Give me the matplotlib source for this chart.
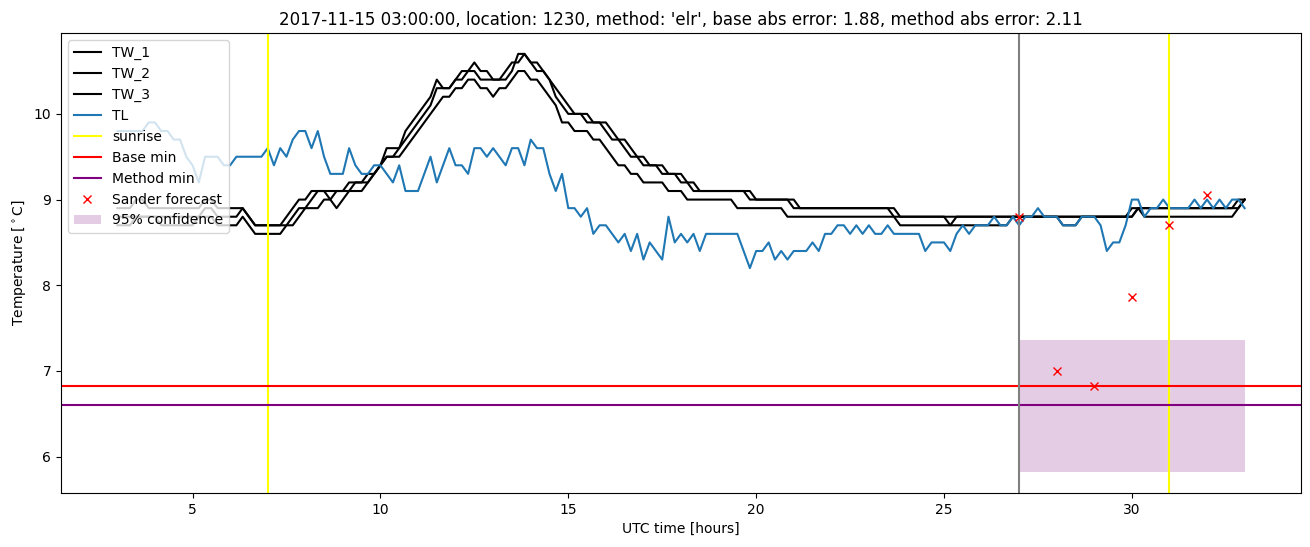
import numpy as np
import matplotlib
matplotlib.use("Agg")
import matplotlib.pyplot as plt

# 10-minute samples from 03:00 (day before) to 09:00, in hours
hours = 3 + np.arange(181) / 6

tw_1 = [8.9, 8.9, 8.9, 9.0, 9.0, 8.9,
        8.9, 8.9, 8.9, 8.9, 8.9, 8.9,
        8.9, 8.9, 9.0, 9.0, 8.9, 8.9,
        8.9, 8.9, 8.9, 8.8, 8.7, 8.7,
        8.7, 8.7, 8.7, 8.8, 8.9, 9.0,
        9.0, 9.1, 9.1, 9.1, 9.1, 9.1,
        9.1, 9.2, 9.2, 9.2, 9.3, 9.3,
        9.4, 9.6, 9.6, 9.6, 9.8, 9.9,
        10.0, 10.1, 10.2, 10.4, 10.3, 10.3,
        10.4, 10.5, 10.5, 10.6, 10.5, 10.5,
        10.4, 10.4, 10.5, 10.6, 10.6, 10.7,
        10.6, 10.6, 10.5, 10.4, 10.2, 10.1,
        10.0, 10.0, 10.0, 9.9, 9.9, 9.9,
        9.8, 9.7, 9.7, 9.6, 9.5, 9.5,
        9.4, 9.4, 9.4, 9.3, 9.3, 9.3,
        9.2, 9.2, 9.1, 9.1, 9.1, 9.1,
        9.1, 9.1, 9.1, 9.1, 9.1, 9.0,
        9.0, 9.0, 9.0, 9.0, 9.0, 9.0,
        8.9, 8.9, 8.9, 8.9, 8.9, 8.9,
        8.9, 8.9, 8.9, 8.9, 8.9, 8.9,
        8.9, 8.9, 8.9, 8.9, 8.8, 8.8,
        8.8, 8.8, 8.8, 8.8, 8.8, 8.8,
        8.8, 8.7, 8.8, 8.8, 8.8, 8.8,
        8.8, 8.8, 8.8, 8.8, 8.8, 8.8,
        8.8, 8.8, 8.8, 8.8, 8.8, 8.8,
        8.8, 8.8, 8.8, 8.8, 8.8, 8.8,
        8.8, 8.8, 8.8, 8.8, 8.8, 8.8,
        8.9, 8.9, 8.9, 8.9, 8.9, 8.9,
        8.9, 8.9, 8.9, 8.9, 8.9, 8.9,
        8.9, 8.9, 8.9, 8.9, 8.9, 9.0,
        9.0]

tw_2 = [8.8, 8.8, 8.8, 8.8, 8.8, 8.8,
        8.8, 8.8, 8.8, 8.8, 8.8, 8.8,
        8.8, 8.8, 8.9, 8.9, 8.8, 8.8,
        8.8, 8.8, 8.9, 8.8, 8.7, 8.7,
        8.7, 8.7, 8.7, 8.7, 8.8, 8.9,
        8.9, 9.0, 9.1, 9.1, 9.0, 9.1,
        9.1, 9.1, 9.2, 9.2, 9.2, 9.3,
        9.4, 9.5, 9.5, 9.6, 9.7, 9.8,
        9.9, 10.0, 10.1, 10.3, 10.3, 10.3,
        10.4, 10.4, 10.5, 10.5, 10.4, 10.4,
        10.4, 10.4, 10.4, 10.5, 10.7, 10.7,
        10.6, 10.5, 10.5, 10.4, 10.3, 10.2,
        10.1, 10.0, 10.0, 10.0, 9.9, 9.9,
        9.9, 9.8, 9.7, 9.7, 9.6, 9.5,
        9.5, 9.4, 9.4, 9.4, 9.3, 9.3,
        9.3, 9.2, 9.2, 9.1, 9.1, 9.1,
        9.1, 9.1, 9.1, 9.1, 9.1, 9.1,
        9.0, 9.0, 9.0, 9.0, 9.0, 9.0,
        9.0, 8.9, 8.9, 8.9, 8.9, 8.9,
        8.9, 8.9, 8.9, 8.9, 8.9, 8.9,
        8.9, 8.9, 8.9, 8.9, 8.9, 8.8,
        8.8, 8.8, 8.8, 8.8, 8.8, 8.8,
        8.8, 8.8, 8.8, 8.8, 8.8, 8.8,
        8.8, 8.8, 8.8, 8.8, 8.8, 8.8,
        8.8, 8.8, 8.8, 8.8, 8.8, 8.8,
        8.8, 8.7, 8.7, 8.7, 8.8, 8.8,
        8.8, 8.8, 8.8, 8.8, 8.8, 8.8,
        8.8, 8.9, 8.9, 8.9, 8.9, 8.9,
        8.9, 8.9, 8.9, 8.9, 8.9, 8.9,
        8.9, 8.9, 8.9, 8.9, 8.9, 8.9,
        9.0]

tw_3 = [8.7, 8.7, 8.7, 8.8, 8.8, 8.8,
        8.8, 8.7, 8.7, 8.7, 8.7, 8.7,
        8.7, 8.8, 8.8, 8.8, 8.7, 8.7,
        8.7, 8.7, 8.8, 8.7, 8.6, 8.6,
        8.6, 8.6, 8.6, 8.7, 8.7, 8.8,
        8.9, 8.9, 8.9, 9.0, 9.0, 8.9,
        9.0, 9.1, 9.1, 9.1, 9.2, 9.3,
        9.4, 9.5, 9.5, 9.5, 9.6, 9.7,
        9.8, 9.9, 10.0, 10.1, 10.2, 10.2,
        10.3, 10.3, 10.4, 10.4, 10.3, 10.3,
        10.2, 10.3, 10.3, 10.4, 10.5, 10.5,
        10.4, 10.4, 10.3, 10.2, 10.1, 9.9,
        9.9, 9.8, 9.8, 9.8, 9.7, 9.7,
        9.6, 9.5, 9.4, 9.4, 9.3, 9.3,
        9.2, 9.2, 9.2, 9.2, 9.1, 9.1,
        9.1, 9.0, 9.0, 9.0, 9.0, 9.0,
        9.0, 9.0, 9.0, 8.9, 8.9, 8.9,
        8.9, 8.9, 8.9, 8.9, 8.9, 8.8,
        8.8, 8.8, 8.8, 8.8, 8.8, 8.8,
        8.8, 8.8, 8.8, 8.8, 8.8, 8.8,
        8.8, 8.8, 8.8, 8.8, 8.8, 8.7,
        8.7, 8.7, 8.7, 8.7, 8.7, 8.7,
        8.7, 8.7, 8.7, 8.7, 8.7, 8.7,
        8.7, 8.7, 8.7, 8.7, 8.7, 8.8,
        8.8, 8.8, 8.8, 8.8, 8.8, 8.8,
        8.8, 8.8, 8.8, 8.8, 8.8, 8.8,
        8.8, 8.8, 8.8, 8.8, 8.8, 8.8,
        8.8, 8.9, 8.8, 8.8, 8.8, 8.8,
        8.8, 8.8, 8.8, 8.8, 8.8, 8.8,
        8.8, 8.8, 8.8, 8.8, 8.8, 8.9,
        9.0]

tl = [9.8, 9.8, 9.8, 9.8, 9.8, 9.9,
      9.9, 9.8, 9.8, 9.7, 9.7, 9.5,
      9.4, 9.2, 9.5, 9.5, 9.5, 9.4,
      9.4, 9.5, 9.5, 9.5, 9.5, 9.5,
      9.6, 9.4, 9.6, 9.5, 9.7, 9.8,
      9.8, 9.6, 9.8, 9.5, 9.3, 9.3,
      9.3, 9.6, 9.4, 9.3, 9.3, 9.4,
      9.4, 9.3, 9.2, 9.4, 9.1, 9.1,
      9.1, 9.3, 9.5, 9.2, 9.4, 9.6,
      9.4, 9.4, 9.3, 9.6, 9.6, 9.5,
      9.6, 9.5, 9.4, 9.6, 9.6, 9.4,
      9.7, 9.6, 9.6, 9.3, 9.1, 9.3,
      8.9, 8.9, 8.8, 8.9, 8.6, 8.7,
      8.7, 8.6, 8.5, 8.6, 8.4, 8.6,
      8.3, 8.5, 8.4, 8.3, 8.8, 8.5,
      8.6, 8.5, 8.6, 8.4, 8.6, 8.6,
      8.6, 8.6, 8.6, 8.6, 8.4, 8.2,
      8.4, 8.4, 8.5, 8.3, 8.4, 8.3,
      8.4, 8.4, 8.4, 8.5, 8.4, 8.6,
      8.6, 8.7, 8.7, 8.6, 8.7, 8.6,
      8.7, 8.6, 8.6, 8.7, 8.6, 8.6,
      8.6, 8.6, 8.6, 8.4, 8.5, 8.5,
      8.5, 8.4, 8.6, 8.7, 8.6, 8.7,
      8.7, 8.7, 8.8, 8.7, 8.7, 8.8,
      8.7, 8.8, 8.8, 8.9, 8.8, 8.8,
      8.8, 8.7, 8.7, 8.7, 8.8, 8.8,
      8.8, 8.7, 8.4, 8.5, 8.5, 8.7,
      9.0, 9.0, 8.8, 8.9, 8.9, 9.0,
      8.9, 8.9, 8.9, 8.9, 9.0, 8.9,
      9.0, 8.9, 9.0, 8.9, 9.0, 9.0,
      8.9]

sunrise = [7, 31]
forecast_time = 27
base_min = 6.82
method_min = 6.6
sander_hours = [27, 28, 29, 30, 31, 32]
sander_temp = [8.8, 7.0, 6.82, 7.86, 8.7, 9.05]
conf_hours = [27, 33]
conf_low = 5.82
conf_high = 7.36

fig = plt.figure(figsize=(13.1, 5.47), dpi=100)
ax = fig.add_axes([0.0466, 0.0987, 0.9465, 0.841])

ax.plot(hours, tw_1, color='k', label='TW_1')
ax.plot(hours, tw_2, color='k', label='TW_2')
ax.plot(hours, tw_3, color='k', label='TW_3')
ax.plot(hours, tl, label='TL')
for i, s in enumerate(sunrise):
    ax.axvline(s, color='yellow', label='sunrise' if i == 0 else None)
ax.axhline(base_min, color='red', label='Base min')
ax.axhline(method_min, color='purple', label='Method min')
ax.axvline(forecast_time, color='grey')
ax.plot(sander_hours, sander_temp, 'rx', label='Sander forecast')
ax.fill_between(conf_hours, conf_low, conf_high, color='purple', alpha=0.2,
                linewidth=0, label='95% confidence')

ax.set_title("2017-11-15 03:00:00, location: 1230, method: 'elr', "
             "base abs error: 1.88, method abs error: 2.11")
ax.set_xlabel('UTC time [hours]')
ax.set_ylabel(r'Temperature [$^\circ$C]')
ax.legend(loc='upper left')

fig.savefig('out.png', dpi=100)
